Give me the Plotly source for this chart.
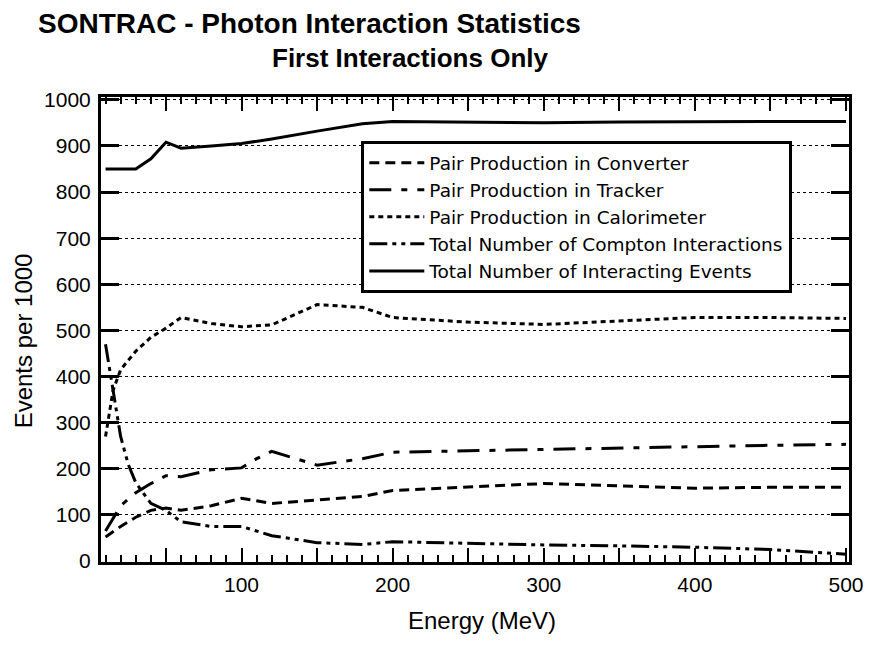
import plotly.graph_objects as go

# ---- data ----
e_conv = [10, 20, 30, 40, 50, 60, 80, 100, 120, 150, 180, 200, 250, 300, 350, 400, 450, 500]
v_conv = [52, 75, 95, 110, 115, 110, 120, 136, 125, 133, 140, 153, 160, 168, 163, 158, 160, 160]

e_trk = [10, 20, 30, 40, 50, 60, 80, 100, 110, 120, 150, 180, 200, 250, 300, 350, 400, 450, 500]
v_trk = [65, 120, 148, 168, 185, 183, 198, 202, 222, 238, 208, 222, 236, 239, 243, 246, 248, 251, 253]

e_cal = [10, 15, 20, 30, 40, 50, 60, 70, 80, 100, 120, 150, 180, 200, 250, 300, 350, 400, 450, 500]
v_cal = [270, 370, 415, 455, 485, 505, 528, 522, 515, 508, 512, 556, 550, 528, 518, 513, 520, 528, 528, 526]

e_comp = [10, 15, 20, 25, 30, 40, 50, 60, 80, 100, 120, 150, 180, 200, 250, 300, 350, 400, 450, 500]
v_comp = [470, 370, 270, 210, 170, 125, 110, 85, 75, 75, 55, 40, 36, 42, 38, 35, 33, 30, 25, 15]

e_tot = [10, 30, 40, 50, 60, 70, 80, 100, 120, 150, 180, 200, 250, 300, 350, 400, 450, 500]
v_tot = [850, 850, 872, 908, 895, 898, 900, 905, 915, 932, 948, 953, 952, 950, 952, 953, 953, 953]

names = ["Pair Production in Converter", "Pair Production in Tracker",
         "Pair Production in Calorimeter", "Total Number of Compton Interactions",
         "Total Number of Interacting Events"]

x_tickvals = [50, 100, 150, 200, 250, 300, 350, 400, 450, 500]
x_ticktext = ["", "100", "", "200", "", "300", "", "400", "", "500"]
y_tickvals = [0, 100, 200, 300, 400, 500, 600, 700, 800, 900, 1000]

FONT = "Liberation Sans, Arial, Helvetica, sans-serif"
LEGEND_FONT = "DejaVu Sans, Liberation Sans, sans-serif"

series = [
    (e_conv, v_conv, "10px,6px"),
    (e_trk, v_trk, "22px,10px,6px,10px"),
    (e_cal, v_cal, "5px,4px"),
    (e_comp, v_comp, "18px,5px,4px,5px,4px,5px"),
    (e_tot, v_tot, "solid"),
]

fig = go.Figure()
for (xs, ys, dash), nm in zip(series, names):
    fig.add_trace(go.Scatter(x=xs, y=ys, mode="lines", name=nm,
                             line=dict(color="black", width=3, dash=dash)))

fig.update_layout(
    width=869, height=645,
    margin=dict(l=101, r=20, t=97, b=83),
    paper_bgcolor="white", plot_bgcolor="white",
    font=dict(family=FONT, color="black", size=18),
    showlegend=True,
    legend=dict(x=0.348, y=0.905, xanchor="left", yanchor="top",
                bordercolor="black", borderwidth=3, bgcolor="white",
                font=dict(size=18.5, family=LEGEND_FONT), tracegroupgap=0,
                itemwidth=55),
    annotations=[
        dict(text="<b>SONTRAC - Photon Interaction Statistics</b>",
             xref="paper", yref="paper", x=0.279, y=1.158,
             xanchor="center", yanchor="middle", showarrow=False,
             font=dict(size=28, family=FONT)),
        dict(text="<b>First Interactions Only</b>",
             xref="paper", yref="paper", x=0.413, y=1.084,
             xanchor="center", yanchor="middle", showarrow=False,
             font=dict(size=26, family=FONT)),
        dict(text="Energy (MeV)",
             xref="paper", yref="paper", x=0.509, y=-0.125,
             xanchor="center", yanchor="middle", showarrow=False,
             font=dict(size=24, family=FONT)),
        dict(text="Events per 1000", textangle=-90,
             xref="paper", yref="paper", x=-0.104, y=0.475,
             xanchor="center", yanchor="middle", showarrow=False,
             font=dict(size=24, family=FONT)),
    ],
)

fig.update_xaxes(
    range=[7, 502], tickmode="array", tickvals=x_tickvals, ticktext=x_ticktext,
    ticks="inside", ticklen=14, tickwidth=2, tickcolor="black",
    minor=dict(dtick=10, ticks="inside", ticklen=7, tickwidth=2, tickcolor="black", showgrid=False),
    showline=True, linecolor="black", linewidth=3, mirror="allticks",
    showgrid=False, zeroline=False, automargin=False,
    tickfont=dict(size=21, family=FONT), ticklabelstandoff=2,
)
fig.update_yaxes(
    range=[-2, 1006], tickmode="array", tickvals=y_tickvals,
    ticks="inside", ticklen=18, tickwidth=3, tickcolor="black",
    showline=True, linecolor="black", linewidth=3, mirror="allticks",
    showgrid=True, gridcolor="black", gridwidth=1, griddash="dot",
    zeroline=False, automargin=False,
    tickfont=dict(size=21, family=FONT), ticklabelstandoff=3,
)

fig.write_html("out.html", config={"displayModeBar": False},
               post_script="document.body.style.margin='0';")
